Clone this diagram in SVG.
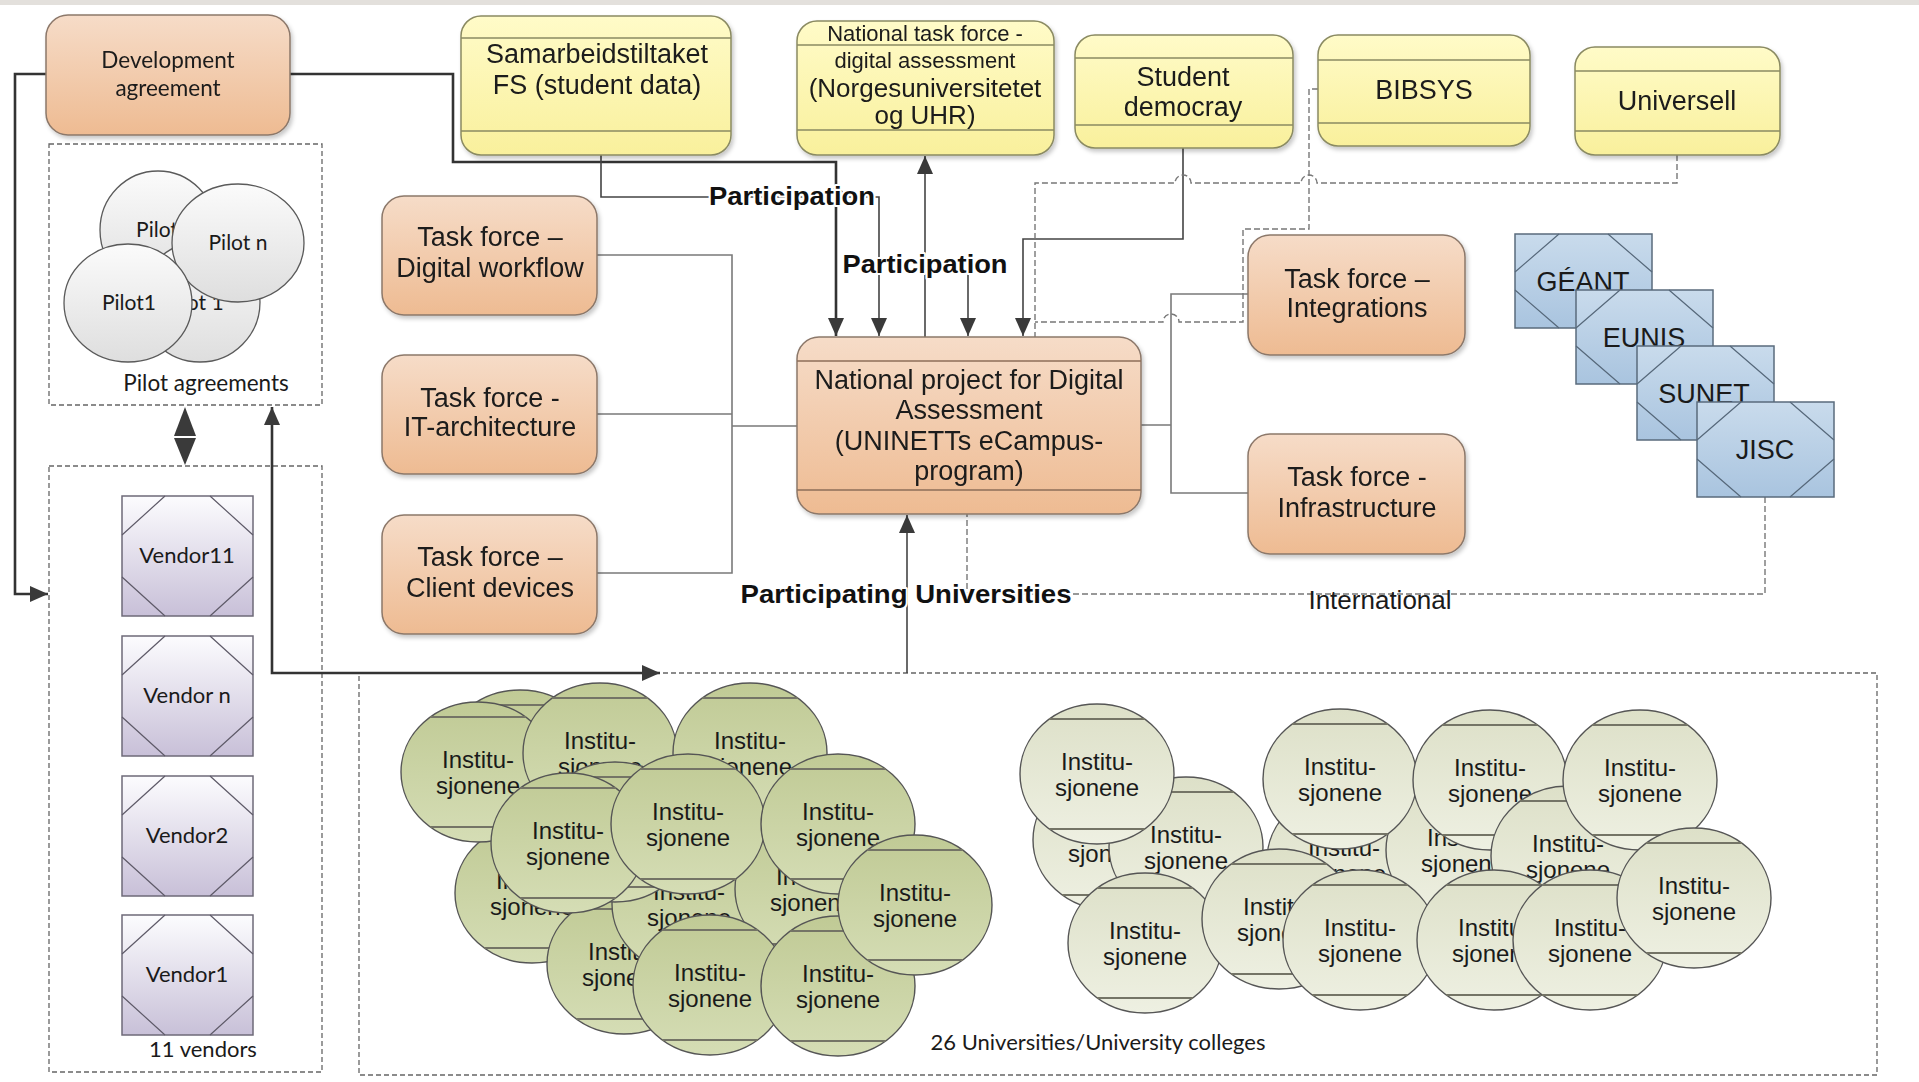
<svg xmlns="http://www.w3.org/2000/svg" xmlns:xlink="http://www.w3.org/1999/xlink" width="1919" height="1082" viewBox="0 0 1919 1082">
<style>
.t{font-family:"Liberation Sans",Arial,sans-serif;fill:#1a1a1a;text-anchor:middle}
.c{font-family:Lato,"Liberation Sans",sans-serif;fill:#1a1a1a;text-anchor:middle}
.b{font-family:"Liberation Sans",Arial,sans-serif;font-weight:bold;fill:#111;text-anchor:middle}
.halo{stroke:#fff;stroke-width:4;paint-order:stroke;stroke-linejoin:round}
.peach{fill:url(#gPeach);stroke:#8c786a;stroke-width:1.5}
.yel{fill:url(#gYel);stroke:#8a8a62;stroke-width:1.5}
.yl{stroke:#8a8a62;stroke-width:1.5}
.pl{stroke:#8c6e58;stroke-width:1.5}
.blue{fill:url(#gBlue);stroke:#5a6b7c;stroke-width:1.5}
.bl{stroke:#56687a;stroke-width:1.2;fill:none}
.ven{fill:url(#gVen);stroke:#6e6a78;stroke-width:1.5}
.vl{stroke:#5e5a68;stroke-width:1.2;fill:none}
.pil{fill:url(#gPil);stroke:#5a5a5a;stroke-width:1.3}
.cont{fill:none;stroke:#666;stroke-width:1.3;stroke-dasharray:5 3}
.dark{fill:none;stroke:#333;stroke-width:2.6}
.thin{fill:none;stroke:#444;stroke-width:1.6}
.gray{fill:none;stroke:#7a7a7a;stroke-width:1.6}
.dash{fill:none;stroke:#777;stroke-width:1.4;stroke-dasharray:6 3}
.chord{stroke:#747466;stroke-width:2}
</style>
<defs>
<linearGradient id="gPeach" x1="0" y1="0" x2="0" y2="1"><stop offset="0" stop-color="#f6dcc8"/><stop offset="1" stop-color="#eebb92"/></linearGradient>
<linearGradient id="gYel" x1="0" y1="0" x2="0" y2="1"><stop offset="0" stop-color="#fffbc8"/><stop offset="1" stop-color="#f9f09c"/></linearGradient>
<linearGradient id="gBlue" x1="0" y1="0" x2="0" y2="1"><stop offset="0" stop-color="#c9dbec"/><stop offset="1" stop-color="#a9c4df"/></linearGradient>
<linearGradient id="gVen" x1="0" y1="0" x2="0" y2="1"><stop offset="0" stop-color="#fcfcfe"/><stop offset="1" stop-color="#c8c0d8"/></linearGradient>
<linearGradient id="gPil" x1="0" y1="0" x2="0" y2="1"><stop offset="0" stop-color="#fbfbfb"/><stop offset="1" stop-color="#dedede"/></linearGradient>
<linearGradient id="gGreen" x1="0" y1="0" x2="0" y2="1"><stop offset="0" stop-color="#c0ca95"/><stop offset="1" stop-color="#d5ddb5"/></linearGradient>
<linearGradient id="gLight" x1="0" y1="0" x2="0" y2="1"><stop offset="0" stop-color="#dde0c8"/><stop offset="1" stop-color="#eef0e2"/></linearGradient>
<filter id="sh" x="-10%" y="-10%" width="125%" height="130%"><feDropShadow dx="2" dy="3" stdDeviation="2" flood-color="#000" flood-opacity="0.22"/></filter>
<marker id="ah" viewBox="0 0 18 16" refX="18" refY="8" markerWidth="18" markerHeight="16" markerUnits="userSpaceOnUse" orient="auto-start-reverse" preserveAspectRatio="none"><path d="M0,0 L18,8 L0,16 z" fill="#3a3a3a"/></marker>
<g id="cg"><ellipse rx="77" ry="70" fill="url(#gGreen)" stroke="#555" stroke-width="1.4"/><line class="chord" x1="-48" y1="-55" x2="48" y2="-55"/><line class="chord" x1="-48" y1="55" x2="48" y2="55"/></g>
<g id="cl"><ellipse rx="77" ry="70" fill="url(#gLight)" stroke="#555" stroke-width="1.4"/><line class="chord" x1="-48" y1="-55" x2="48" y2="-55"/><line class="chord" x1="-48" y1="55" x2="48" y2="55"/></g>
</defs>
<rect width="1919" height="1082" fill="#fff"/>
<rect width="1919" height="5" fill="#e3e0dc"/>

<g id="containers">
<rect class="cont" x="49" y="144" width="273" height="261"/>
<rect class="cont" x="49" y="466" width="273" height="606"/>
<rect class="cont" x="359" y="673" width="1518" height="402"/>
</g>

<g id="connectors">
<path class="dark" d="M46 74 H15 V594 H48" marker-end="url(#ah)"/>
<path class="dark" d="M290 74 H453 V162 H836 V336" marker-end="url(#ah)"/>
<path class="thin" d="M601 155 V197 H828 a8 8 0 0 1 16 0 H879 V336" marker-end="url(#ah)"/>
<path class="thin" d="M925 337 V156" marker-end="url(#ah)"/>
<path class="thin" d="M968 272 V336" marker-end="url(#ah)"/>
<path class="thin" d="M1183 148 V239 H1023 V336" marker-end="url(#ah)"/>
<path class="thin" d="M907 673 V515" marker-end="url(#ah)"/>
<path class="dark" d="M272 407 V673 H660" marker-start="url(#ah)" marker-end="url(#ah)"/>
<path class="gray" d="M597 255 H732 V573 H597 M597 414 H732 M732 426 H797"/>
<path class="gray" d="M1141 425 H1171 M1248 294 H1171 V493 H1248"/>
<path class="dash" d="M1677 155 V183 H1317 a8 8 0 0 0 -16 0 H1191 a8 8 0 0 0 -16 0 H1035 V337"/>
<path class="dash" d="M1318 89 H1309 V229 H1243 V322 H1179 a8 8 0 0 0 -16 0 H1035"/>
<path class="dash" d="M1765 497 V594 H967 V514"/>
<polygon points="185,407 174,436 196,436" fill="#3a3a3a"/>
<polygon points="174,438 196,438 185,465" fill="#3a3a3a"/>
<text class="b halo" x="792" y="205" font-size="25" textLength="166" lengthAdjust="spacingAndGlyphs">Participation</text>
<text class="b halo" x="925" y="273" font-size="25" textLength="165" lengthAdjust="spacingAndGlyphs">Participation</text>
<text class="b halo" x="906" y="603" font-size="26" textLength="331" lengthAdjust="spacingAndGlyphs">Participating Universities</text>
<text class="t" x="1380" y="609" font-size="26">International</text>
</g>

<g id="dev-agreement" filter="url(#sh)">
<rect class="peach" x="46" y="15" width="244" height="120" rx="22"/>
<text class="c" x="168" y="68" font-size="22.5">Development</text>
<text class="c" x="168" y="96" font-size="22.5">agreement</text>
</g>

<g id="pilots">
<ellipse class="pil" cx="158" cy="230" rx="58" ry="59"/>
<text class="c" x="157" y="237" font-size="21">Pilot</text>
<ellipse class="pil" cx="200" cy="302" rx="60" ry="60"/>
<text class="c" x="194" y="310" font-size="21">Pilot 1</text>
<ellipse class="pil" cx="238" cy="243" rx="66" ry="59"/>
<text class="c" x="238" y="250" font-size="21">Pilot n</text>
<ellipse class="pil" cx="128" cy="303" rx="64" ry="59"/>
<text class="c" x="129" y="310" font-size="21">Pilot1</text>
<text class="c" x="206" y="391" font-size="22.5">Pilot agreements</text>
</g>

<g id="vendors">
<g id="vendor11"><rect class="ven" x="122" y="496" width="131" height="120"/><path class="vl" d="M165 496 L122 535 M210 496 L253 535 M122 577 L165 616 M253 577 L210 616"/><text class="c" x="187" y="563" font-size="22">Vendor11</text></g>
<g id="vendor-n"><rect class="ven" x="122" y="636" width="131" height="120"/><path class="vl" d="M165 636 L122 675 M210 636 L253 675 M122 717 L165 756 M253 717 L210 756"/><text class="c" x="187" y="703" font-size="22">Vendor n</text></g>
<g id="vendor2"><rect class="ven" x="122" y="776" width="131" height="120"/><path class="vl" d="M165 776 L122 815 M210 776 L253 815 M122 857 L165 896 M253 857 L210 896"/><text class="c" x="187" y="843" font-size="22">Vendor2</text></g>
<g id="vendor1"><rect class="ven" x="122" y="915" width="131" height="120"/><path class="vl" d="M165 915 L122 954 M210 915 L253 954 M122 996 L165 1035 M253 996 L210 1035"/><text class="c" x="187" y="982" font-size="22">Vendor1</text></g>
<text class="c" x="203" y="1057" font-size="22">11 vendors</text>
</g>

<g id="samarbeid" filter="url(#sh)">
<rect class="yel" x="461" y="16" width="270" height="139" rx="20"/>
<line class="yl" x1="461" y1="38" x2="731" y2="38"/><line class="yl" x1="461" y1="131" x2="731" y2="131"/>
<text class="t" x="597" y="63" font-size="27">Samarbeidstiltaket</text>
<text class="t" x="597" y="94" font-size="27">FS (student data)</text>
</g>
<g id="national-task-force" filter="url(#sh)">
<rect class="yel" x="797" y="21" width="257" height="134" rx="20"/>
<line class="yl" x1="797" y1="45" x2="1054" y2="45"/><line class="yl" x1="797" y1="130" x2="1054" y2="130"/>
<text class="t" x="925" y="41" font-size="22">National task force -</text>
<text class="t" x="925" y="68" font-size="22">digital assessment</text>
<text class="t" x="925" y="97" font-size="26">(Norgesuniversitetet</text>
<text class="t" x="925" y="124" font-size="26">og UHR)</text>
</g>
<g id="student-democracy" filter="url(#sh)">
<rect class="yel" x="1075" y="35" width="218" height="113" rx="20"/>
<line class="yl" x1="1075" y1="58" x2="1293" y2="58"/><line class="yl" x1="1075" y1="125" x2="1293" y2="125"/>
<text class="t" x="1183" y="86" font-size="27">Student</text>
<text class="t" x="1183" y="116" font-size="27">democray</text>
</g>
<g id="bibsys" filter="url(#sh)">
<rect class="yel" x="1318" y="35" width="212" height="111" rx="20"/>
<line class="yl" x1="1318" y1="60" x2="1530" y2="60"/><line class="yl" x1="1318" y1="123" x2="1530" y2="123"/>
<text class="t" x="1424" y="99" font-size="27">BIBSYS</text>
</g>
<g id="universell" filter="url(#sh)">
<rect class="yel" x="1575" y="47" width="205" height="108" rx="20"/>
<line class="yl" x1="1575" y1="71" x2="1780" y2="71"/><line class="yl" x1="1575" y1="131" x2="1780" y2="131"/>
<text class="t" x="1677" y="110" font-size="27">Universell</text>
</g>

<g id="tf-digital-workflow" filter="url(#sh)">
<rect class="peach" x="382" y="196" width="215" height="119" rx="22"/>
<text class="t" x="490" y="246" font-size="27">Task force –</text>
<text class="t" x="490" y="277" font-size="27">Digital workflow</text>
</g>
<g id="tf-it-architecture" filter="url(#sh)">
<rect class="peach" x="382" y="355" width="215" height="119" rx="22"/>
<text class="t" x="490" y="407" font-size="27">Task force -</text>
<text class="t" x="490" y="436" font-size="27">IT-architecture</text>
</g>
<g id="tf-client-devices" filter="url(#sh)">
<rect class="peach" x="382" y="515" width="215" height="119" rx="22"/>
<text class="t" x="490" y="566" font-size="27">Task force –</text>
<text class="t" x="490" y="597" font-size="27">Client devices</text>
</g>
<g id="national-project" filter="url(#sh)">
<rect class="peach" x="797" y="337" width="344" height="177" rx="22"/>
<line class="pl" x1="797" y1="361" x2="1141" y2="361"/><line class="pl" x1="797" y1="490" x2="1141" y2="490"/>
<text class="t" x="969" y="389" font-size="27">National project for Digital</text>
<text class="t" x="969" y="419" font-size="27">Assessment</text>
<text class="t" x="969" y="450" font-size="27">(UNINETTs eCampus-</text>
<text class="t" x="969" y="480" font-size="27">program)</text>
</g>
<g id="tf-integrations" filter="url(#sh)">
<rect class="peach" x="1248" y="235" width="217" height="120" rx="22"/>
<text class="t" x="1357" y="288" font-size="27">Task force –</text>
<text class="t" x="1357" y="317" font-size="27">Integrations</text>
</g>
<g id="tf-infrastructure" filter="url(#sh)">
<rect class="peach" x="1248" y="434" width="217" height="120" rx="22"/>
<text class="t" x="1357" y="486" font-size="27">Task force -</text>
<text class="t" x="1357" y="517" font-size="27">Infrastructure</text>
</g>

<g id="international">
<g id="geant"><rect class="blue" x="1515" y="234" width="137" height="94"/><path class="bl" d="M1559 234 L1515 272 M1608 234 L1652 272 M1515 290 L1559 328 M1652 290 L1608 328"/><text class="t" x="1583" y="291" font-size="27">GÉANT</text></g>
<g id="eunis"><rect class="blue" x="1576" y="290" width="137" height="94"/><path class="bl" d="M1620 290 L1576 328 M1669 290 L1713 328 M1576 346 L1620 384 M1713 346 L1669 384"/><text class="t" x="1644" y="347" font-size="27">EUNIS</text></g>
<g id="sunet"><rect class="blue" x="1637" y="346" width="137" height="94"/><path class="bl" d="M1681 346 L1637 384 M1730 346 L1774 384 M1637 402 L1681 440 M1774 402 L1730 440"/><text class="t" x="1704" y="403" font-size="27">SUNET</text></g>
<g id="jisc"><rect class="blue" x="1697" y="402" width="137" height="95"/><path class="bl" d="M1741 402 L1697 440 M1790 402 L1834 440 M1697 459 L1741 497 M1834 459 L1790 497"/><text class="t" x="1765" y="459" font-size="27">JISC</text></g>
</g>

<g id="participating-universities" class="t" font-size="24">
<use href="#cg" x="520" y="760"/>
<use href="#cg" x="532" y="893"/><text x="532" y="889">Institu-</text><text x="532" y="915">sjonene</text>
<use href="#cg" x="624" y="964"/><text x="624" y="960">Institu-</text><text x="624" y="986">sjonene</text>
<use href="#cg" x="689" y="904"/><text x="689" y="900">Institu-</text><text x="689" y="926">sjonene</text>
<use href="#cg" x="812" y="889"/><text x="812" y="885">Institu-</text><text x="812" y="911">sjonene</text>
<use href="#cg" x="478" y="772"/><text x="478" y="768">Institu-</text><text x="478" y="794">sjonene</text>
<use href="#cg" x="600" y="753"/><text x="600" y="749">Institu-</text><text x="600" y="775">sjonene</text>
<use href="#cg" x="750" y="753"/><text x="750" y="749">Institu-</text><text x="750" y="775">sjonene</text>
<use href="#cg" x="615" y="832"/>
<use href="#cg" x="568" y="843"/><text x="568" y="839">Institu-</text><text x="568" y="865">sjonene</text>
<use href="#cg" x="688" y="824"/><text x="688" y="820">Institu-</text><text x="688" y="846">sjonene</text>
<use href="#cg" x="838" y="824"/><text x="838" y="820">Institu-</text><text x="838" y="846">sjonene</text>
<use href="#cg" x="710" y="985"/><text x="710" y="981">Institu-</text><text x="710" y="1007">sjonene</text>
<use href="#cg" x="838" y="986"/><text x="838" y="982">Institu-</text><text x="838" y="1008">sjonene</text>
<use href="#cg" x="915" y="905"/><text x="915" y="901">Institu-</text><text x="915" y="927">sjonene</text>

<use href="#cl" x="1110" y="840"/><text x="1110" y="836">Institu-</text><text x="1110" y="862">sjonene</text>
<use href="#cl" x="1344" y="860"/><text x="1344" y="856">Institu-</text><text x="1344" y="882">sjonene</text>
<use href="#cl" x="1463" y="850"/><text x="1463" y="846">Institu-</text><text x="1463" y="872">sjonene</text>
<use href="#cl" x="1186" y="847"/><text x="1186" y="843">Institu-</text><text x="1186" y="869">sjonene</text>
<use href="#cl" x="1097" y="774"/><text x="1097" y="770">Institu-</text><text x="1097" y="796">sjonene</text>
<use href="#cl" x="1340" y="779"/><text x="1340" y="775">Institu-</text><text x="1340" y="801">sjonene</text>
<use href="#cl" x="1490" y="780"/><text x="1490" y="776">Institu-</text><text x="1490" y="802">sjonene</text>
<use href="#cl" x="1568" y="856"/><text x="1568" y="852">Institu-</text><text x="1568" y="878">sjonene</text>
<use href="#cl" x="1640" y="780"/><text x="1640" y="776">Institu-</text><text x="1640" y="802">sjonene</text>
<use href="#cl" x="1145" y="943"/><text x="1145" y="939">Institu-</text><text x="1145" y="965">sjonene</text>
<use href="#cl" x="1279" y="919"/><text x="1279" y="915">Institu-</text><text x="1279" y="941">sjonene</text>
<use href="#cl" x="1360" y="940"/><text x="1360" y="936">Institu-</text><text x="1360" y="962">sjonene</text>
<use href="#cl" x="1494" y="940"/><text x="1494" y="936">Institu-</text><text x="1494" y="962">sjonene</text>
<use href="#cl" x="1590" y="940"/><text x="1590" y="936">Institu-</text><text x="1590" y="962">sjonene</text>
<use href="#cl" x="1694" y="898"/><text x="1694" y="894">Institu-</text><text x="1694" y="920">sjonene</text>
</g>
<text class="c" x="1098" y="1050" font-size="22">26 Universities/University colleges</text>
</svg>
